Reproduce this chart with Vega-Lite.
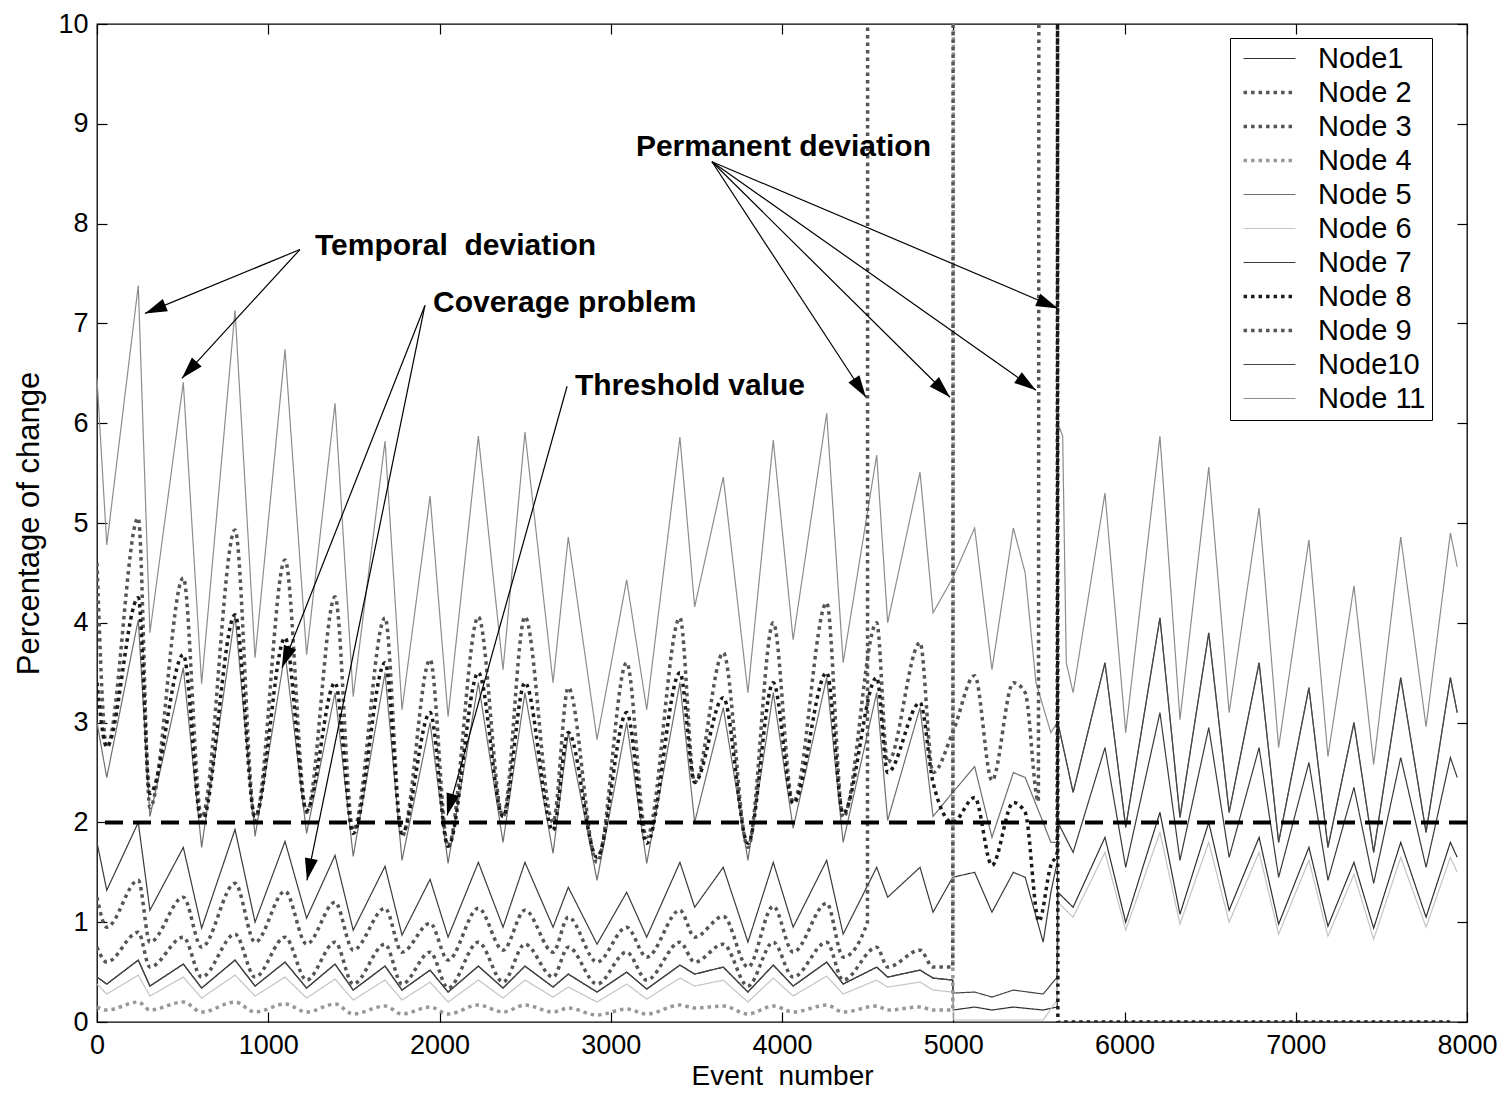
{
  "$schema": "https://vega.github.io/schema/vega-lite/v6.json",
  "width": 1370,
  "height": 998,
  "autosize": {"type": "none"},
  "padding": {"left": 97, "top": 24, "right": 39, "bottom": 74},
  "background": "white",
  "config": {
    "view": {"stroke": "black", "strokeWidth": 1.3},
    "font": "Liberation Sans",
    "axis": {"grid": false, "domain": false, "tickColor": "black", "tickWidth": 1.2, "labelColor": "black", "titleColor": "black", "labelFont": "Liberation Sans", "titleFont": "Liberation Sans", "titleFontWeight": "normal", "labelFontSize": 27},
    "legend": {"title": null, "orient": "none", "legendX": 1133, "legendY": 14, "direction": "vertical",
               "symbolType": "M-1.79,0H1.79", "symbolSize": 841, "labelFont": "Liberation Sans", "labelFontSize": 29, "labelColor": "black",
               "padding": 6, "rowPadding": 4, "strokeColor": "black", "fillColor": "white", "labelOffset": 34, "symbolOffset": 19}
  },
  "datasets": {
    "series": [
      {"e":0,"Node1":0.45,"Node 2":4.6,"Node 3":1.25,"Node 4":0.15,"Node 5":3.0,"Node 6":0.38,"Node 7":1.8,"Node 8":3.4,"Node 9":0.75,"Node10":0.45,"Node 11":6.45},
      {"e":57,"Node1":0.38,"Node 2":2.75,"Node 3":0.95,"Node 4":0.12,"Node 5":2.45,"Node 6":0.28,"Node 7":1.32,"Node 8":2.76,"Node 9":0.6,"Node10":0.38,"Node 11":4.78},
      {"e":241,"Node1":0.62,"Node 2":5.05,"Node 3":1.42,"Node 4":0.2,"Node 5":4.03,"Node 6":0.47,"Node 7":2.0,"Node 8":4.25,"Node 9":0.9,"Node10":0.62,"Node 11":7.38},
      {"e":309,"Node1":0.36,"Node 2":2.15,"Node 3":0.8,"Node 4":0.12,"Node 5":2.06,"Node 6":0.26,"Node 7":1.12,"Node 8":2.29,"Node 9":0.55,"Node10":0.36,"Node 11":3.9},
      {"e":504,"Node1":0.58,"Node 2":4.45,"Node 3":1.25,"Node 4":0.2,"Node 5":3.55,"Node 6":0.45,"Node 7":1.75,"Node 8":3.68,"Node 9":0.85,"Node10":0.58,"Node 11":6.41},
      {"e":611,"Node1":0.34,"Node 2":2.05,"Node 3":0.75,"Node 4":0.1,"Node 5":1.75,"Node 6":0.24,"Node 7":0.94,"Node 8":2.0,"Node 9":0.45,"Node10":0.34,"Node 11":3.39},
      {"e":806,"Node1":0.62,"Node 2":4.93,"Node 3":1.39,"Node 4":0.2,"Node 5":4.08,"Node 6":0.47,"Node 7":1.93,"Node 8":4.08,"Node 9":0.88,"Node10":0.62,"Node 11":7.13},
      {"e":923,"Node1":0.36,"Node 2":2.02,"Node 3":0.8,"Node 4":0.1,"Node 5":1.86,"Node 6":0.26,"Node 7":1.0,"Node 8":2.06,"Node 9":0.45,"Node10":0.36,"Node 11":3.65},
      {"e":1098,"Node1":0.6,"Node 2":4.63,"Node 3":1.31,"Node 4":0.18,"Node 5":3.7,"Node 6":0.45,"Node 7":1.81,"Node 8":3.85,"Node 9":0.85,"Node10":0.6,"Node 11":6.74},
      {"e":1224,"Node1":0.34,"Node 2":2.1,"Node 3":0.78,"Node 4":0.1,"Node 5":1.89,"Node 6":0.24,"Node 7":1.04,"Node 8":2.12,"Node 9":0.42,"Node10":0.34,"Node 11":3.68},
      {"e":1390,"Node1":0.58,"Node 2":4.26,"Node 3":1.2,"Node 4":0.18,"Node 5":3.3,"Node 6":0.43,"Node 7":1.67,"Node 8":3.4,"Node 9":0.8,"Node10":0.58,"Node 11":6.2},
      {"e":1496,"Node1":0.32,"Node 2":1.92,"Node 3":0.72,"Node 4":0.08,"Node 5":1.66,"Node 6":0.22,"Node 7":0.92,"Node 8":1.89,"Node 9":0.38,"Node10":0.32,"Node 11":3.26},
      {"e":1682,"Node1":0.56,"Node 2":4.05,"Node 3":1.14,"Node 4":0.16,"Node 5":3.5,"Node 6":0.42,"Node 7":1.56,"Node 8":3.6,"Node 9":0.78,"Node10":0.56,"Node 11":5.82},
      {"e":1781,"Node1":0.32,"Node 2":1.86,"Node 3":0.7,"Node 4":0.08,"Node 5":1.62,"Node 6":0.22,"Node 7":0.87,"Node 8":1.89,"Node 9":0.38,"Node10":0.32,"Node 11":3.13},
      {"e":1945,"Node1":0.52,"Node 2":3.63,"Node 3":0.99,"Node 4":0.15,"Node 5":3.0,"Node 6":0.4,"Node 7":1.43,"Node 8":3.1,"Node 9":0.7,"Node10":0.52,"Node 11":5.27},
      {"e":2050,"Node1":0.3,"Node 2":1.76,"Node 3":0.62,"Node 4":0.08,"Node 5":1.59,"Node 6":0.2,"Node 7":0.85,"Node 8":1.76,"Node 9":0.34,"Node10":0.3,"Node 11":3.06},
      {"e":2227,"Node1":0.56,"Node 2":4.06,"Node 3":1.14,"Node 4":0.17,"Node 5":3.4,"Node 6":0.42,"Node 7":1.6,"Node 8":3.5,"Node 9":0.8,"Node10":0.56,"Node 11":5.87},
      {"e":2371,"Node1":0.34,"Node 2":2.06,"Node 3":0.72,"Node 4":0.1,"Node 5":1.8,"Node 6":0.24,"Node 7":0.95,"Node 8":2.06,"Node 9":0.4,"Node10":0.34,"Node 11":3.53},
      {"e":2499,"Node1":0.56,"Node 2":4.06,"Node 3":1.12,"Node 4":0.17,"Node 5":3.3,"Node 6":0.42,"Node 7":1.6,"Node 8":3.4,"Node 9":0.78,"Node10":0.56,"Node 11":5.91},
      {"e":2663,"Node1":0.35,"Node 2":2.0,"Node 3":0.7,"Node 4":0.1,"Node 5":1.69,"Node 6":0.25,"Node 7":0.95,"Node 8":1.92,"Node 9":0.45,"Node10":0.35,"Node 11":3.4},
      {"e":2752,"Node1":0.48,"Node 2":3.35,"Node 3":1.05,"Node 4":0.14,"Node 5":2.9,"Node 6":0.35,"Node 7":1.35,"Node 8":2.9,"Node 9":0.75,"Node10":0.48,"Node 11":4.86},
      {"e":2920,"Node1":0.3,"Node 2":1.6,"Node 3":0.6,"Node 4":0.07,"Node 5":1.42,"Node 6":0.2,"Node 7":0.78,"Node 8":1.65,"Node 9":0.38,"Node10":0.3,"Node 11":2.83},
      {"e":3093,"Node1":0.5,"Node 2":3.6,"Node 3":0.95,"Node 4":0.13,"Node 5":3.0,"Node 6":0.38,"Node 7":1.3,"Node 8":3.1,"Node 9":0.7,"Node10":0.5,"Node 11":4.43},
      {"e":3210,"Node1":0.33,"Node 2":1.85,"Node 3":0.65,"Node 4":0.08,"Node 5":1.59,"Node 6":0.23,"Node 7":0.85,"Node 8":1.79,"Node 9":0.42,"Node10":0.33,"Node 11":3.13},
      {"e":3404,"Node1":0.57,"Node 2":4.05,"Node 3":1.12,"Node 4":0.17,"Node 5":3.4,"Node 6":0.44,"Node 7":1.6,"Node 8":3.5,"Node 9":0.8,"Node10":0.57,"Node 11":5.86},
      {"e":3490,"Node1":0.48,"Node 2":2.4,"Node 3":0.85,"Node 4":0.14,"Node 5":2.0,"Node 6":0.36,"Node 7":1.15,"Node 8":2.4,"Node 9":0.6,"Node10":0.48,"Node 11":4.16},
      {"e":3657,"Node1":0.55,"Node 2":3.7,"Node 3":1.06,"Node 4":0.16,"Node 5":3.15,"Node 6":0.42,"Node 7":1.55,"Node 8":3.25,"Node 9":0.78,"Node10":0.55,"Node 11":5.46},
      {"e":3801,"Node1":0.3,"Node 2":1.75,"Node 3":0.55,"Node 4":0.08,"Node 5":1.62,"Node 6":0.2,"Node 7":0.8,"Node 8":1.79,"Node 9":0.36,"Node10":0.3,"Node 11":3.3},
      {"e":3949,"Node1":0.57,"Node 2":4.0,"Node 3":1.16,"Node 4":0.16,"Node 5":3.3,"Node 6":0.44,"Node 7":1.6,"Node 8":3.4,"Node 9":0.8,"Node10":0.57,"Node 11":5.83},
      {"e":4065,"Node1":0.36,"Node 2":2.2,"Node 3":0.7,"Node 4":0.1,"Node 5":1.94,"Node 6":0.26,"Node 7":0.95,"Node 8":2.19,"Node 9":0.45,"Node10":0.36,"Node 11":3.83},
      {"e":4261,"Node1":0.6,"Node 2":4.2,"Node 3":1.19,"Node 4":0.17,"Node 5":3.45,"Node 6":0.46,"Node 7":1.62,"Node 8":3.5,"Node 9":0.8,"Node10":0.6,"Node 11":6.1},
      {"e":4357,"Node1":0.38,"Node 2":2.05,"Node 3":0.65,"Node 4":0.1,"Node 5":1.8,"Node 6":0.28,"Node 7":0.88,"Node 8":2.09,"Node 9":0.42,"Node10":0.38,"Node 11":3.6},
      {"e":4499,"Node 3":1.0},
      {"e":4500,"Node 3":10.5},
      {"e":4553,"Node1":0.55,"Node 2":4.0,"Node 4":0.16,"Node 5":3.3,"Node 6":0.42,"Node 7":1.55,"Node 8":3.45,"Node 9":0.75,"Node10":0.55,"Node 11":5.68},
      {"e":4617,"Node1":0.45,"Node 2":2.6,"Node 4":0.12,"Node 5":2.02,"Node 6":0.35,"Node 7":1.25,"Node 8":2.5,"Node 9":0.55,"Node10":0.45,"Node 11":4.0},
      {"e":4806,"Node1":0.52,"Node 2":3.8,"Node 4":0.15,"Node 5":3.15,"Node 6":0.4,"Node 7":1.55,"Node 8":3.2,"Node 9":0.72,"Node10":0.52,"Node 11":5.51},
      {"e":4882,"Node1":0.44,"Node 2":2.5,"Node 4":0.12,"Node 5":2.06,"Node 6":0.32,"Node 7":1.1,"Node 8":2.4,"Node 9":0.55,"Node10":0.44,"Node 11":4.1},
      {"e":4997,"Node1":0.42,"Node 2":2.9,"Node 4":0.12,"Node 5":2.3,"Node 6":0.3,"Node 7":1.45,"Node 8":2.0,"Node 9":0.55,"Node10":0.42,"Node 11":4.45},
      {"e":4999,"Node 9":10.5},
      {"e":5000,"Node1":0.12,"Node 6":0.02,"Node10":0.29},
      {"e":5001,"Node 4":10.5},
      {"e":5125,"Node1":0.15,"Node 2":3.47,"Node 5":2.56,"Node 6":0.02,"Node 7":1.5,"Node 8":2.25,"Node10":0.3,"Node 11":4.95},
      {"e":5226,"Node1":0.12,"Node 2":2.42,"Node 5":1.85,"Node 7":1.1,"Node 8":1.57,"Node10":0.25,"Node 11":3.53},
      {"e":5351,"Node1":0.15,"Node 2":3.4,"Node 5":2.5,"Node 7":1.5,"Node 8":2.2,"Node10":0.32,"Node 11":4.95},
      {"e":5420,"Node 2":3.3,"Node 5":2.45,"Node 7":1.45,"Node 8":2.1,"Node 11":4.5},
      {"e":5483,"Node 11":3.4},
      {"e":5497,"Node 2":2.21},
      {"e":5500,"Node 2":10.5,"Node 8":1.01},
      {"e":5525,"Node1":0.12,"Node 5":2.0,"Node 6":0.02,"Node 7":0.8,"Node10":0.28},
      {"e":5570,"Node 5":1.8,"Node 7":1.3,"Node 8":1.57,"Node 11":2.9},
      {"e":5607,"Node1":0.15,"Node 5":1.8,"Node 6":0.22,"Node 7":1.6,"Node 8":1.7,"Node10":0.45,"Node 11":3.0},
      {"e":5609,"Node 8":10.5},
      {"e":5611,"Node1":1.3,"Node 5":3.0,"Node 6":1.2,"Node 7":2.0,"Node 8":0,"Node10":3.0,"Node 11":6.0},
      {"e":5639,"Node 11":5.87},
      {"e":5660,"Node 11":3.6},
      {"e":5700,"Node1":1.15,"Node 5":2.3,"Node 6":1.05,"Node 7":1.7,"Node10":2.3,"Node 11":3.3},
      {"e":5886,"Node1":1.85,"Node 5":3.6,"Node 6":1.7,"Node 7":2.75,"Node10":3.6,"Node 11":5.3},
      {"e":6007,"Node1":1.0,"Node 5":1.95,"Node 6":0.92,"Node 7":1.55,"Node10":1.95,"Node 11":2.9},
      {"e":6207,"Node1":2.1,"Node 5":4.05,"Node 6":1.9,"Node 7":3.1,"Node10":4.05,"Node 11":5.87},
      {"e":6324,"Node1":1.08,"Node 5":2.05,"Node 6":0.98,"Node 7":1.62,"Node10":2.05,"Node 11":3.03},
      {"e":6492,"Node1":2.0,"Node 5":3.9,"Node 6":1.8,"Node 7":2.95,"Node10":3.9,"Node 11":5.56},
      {"e":6611,"Node1":1.12,"Node 5":2.1,"Node 6":1.0,"Node 7":1.65,"Node10":2.1,"Node 11":3.1},
      {"e":6786,"Node1":1.85,"Node 5":3.6,"Node 6":1.7,"Node 7":2.75,"Node10":3.6,"Node 11":5.15},
      {"e":6900,"Node1":0.98,"Node 5":1.8,"Node 6":0.88,"Node 7":1.45,"Node10":1.8,"Node 11":2.75},
      {"e":7077,"Node1":1.75,"Node 5":3.35,"Node 6":1.62,"Node 7":2.6,"Node10":3.35,"Node 11":4.83},
      {"e":7188,"Node1":0.96,"Node 5":1.75,"Node 6":0.86,"Node 7":1.42,"Node10":1.75,"Node 11":2.66},
      {"e":7340,"Node1":1.6,"Node 5":3.0,"Node 6":1.48,"Node 7":2.35,"Node10":3.0,"Node 11":4.37},
      {"e":7455,"Node1":0.94,"Node 5":1.7,"Node 6":0.83,"Node 7":1.39,"Node10":1.7,"Node 11":2.58},
      {"e":7613,"Node1":1.8,"Node 5":3.45,"Node 6":1.65,"Node 7":2.65,"Node10":3.45,"Node 11":4.86},
      {"e":7761,"Node1":1.05,"Node 5":1.9,"Node 6":0.95,"Node 7":1.55,"Node10":1.9,"Node 11":2.96},
      {"e":7900,"Node 8":0},
      {"e":7903,"Node1":1.8,"Node 5":3.45,"Node 6":1.65,"Node 7":2.65,"Node10":3.45,"Node 11":4.9},
      {"e":7943,"Node1":1.65,"Node 5":3.1,"Node 6":1.5,"Node 7":2.45,"Node10":3.1,"Node 11":4.56}
    ],
    "arrows": [
      {"e":1185,"v":7.74,"e2":280,"v2":7.1},
      {"e":1185,"v":7.74,"e2":496,"v2":6.45},
      {"e":1915,"v":7.18,"e2":1080,"v2":3.55},
      {"e":1915,"v":7.18,"e2":1226,"v2":1.42},
      {"e":2745,"v":6.37,"e2":2044,"v2":2.07},
      {"e":3591,"v":8.62,"e2":4490,"v2":6.26},
      {"e":3591,"v":8.62,"e2":4981,"v2":6.26},
      {"e":3591,"v":8.62,"e2":5483,"v2":6.33},
      {"e":3591,"v":8.62,"e2":5612,"v2":7.15}
    ],
    "notes": [
      {"text":"Temporal\u00a0 deviation","e":1273,"v":7.78},
      {"text":"Coverage problem","e":1962,"v":7.2},
      {"text":"Threshold value","e":2791,"v":6.37},
      {"text":"Permanent deviation","e":3147,"v":8.77}
    ],
    "threshold": [{"value": 2}]
  },
  "layer": [
    {
      "data": {"name": "series"},
      "transform": [
        {"fold": ["Node1","Node 5","Node 6","Node 7","Node10","Node 11"], "as": ["node","value"]},
        {"filter": "isValid(datum.value)"}
      ],
      "mark": {"type": "line", "clip": true, "interpolate": "linear", "strokeWidth": 1.2},
      "encoding": {
        "x": {"field": "e", "type": "quantitative", "scale": {"domain": [0, 8000], "nice": false, "zero": false},
          "axis": {"values": [0,1000,2000,3000,4000,5000,6000,7000,8000], "format": "d", "title": "Event\u00a0 number", "labelFlush": false, "tickSize": -10, "labelPadding": 20, "titleFontSize": 28, "titlePadding": 4, "labelFontSize": 27}},
        "y": {"field": "value", "type": "quantitative", "scale": {"domain": [0, 10], "nice": false},
          "axis": {"values": [0,1,2,3,4,5,6,7,8,9,10], "format": "d", "title": "Percentage of change", "labelFlush": false, "tickSize": -10, "labelPadding": 19, "titleFontSize": 31, "titlePadding": 12, "labelFontSize": 27}},
        "color": {"field": "node", "type": "nominal",
          "scale": {"domain": ["Node1","Node 2","Node 3","Node 4","Node 5","Node 6","Node 7","Node 8","Node 9","Node10","Node 11"],
                    "range": ["#2e2e2e","#555555","#555555","#979797","#6e6e6e","#c4c4c4","#3a3a3a","#1a1a1a","#555555","#444444","#8c8c8c"]},
          "legend": {"encode": {"symbols": {"update": {"strokeWidth": {"signal": "indexof(['Node 2','Node 3','Node 4','Node 8','Node 9'], datum.value) >= 0 ? 3.5 : 1.2"}}}}}},
        "strokeDash": {"field": "node", "type": "nominal",
          "scale": {"domain": ["Node1","Node 2","Node 3","Node 4","Node 5","Node 6","Node 7","Node 8","Node 9","Node10","Node 11"],
                    "range": [[1,0],[3.5,4],[3.5,4],[3.5,4],[1,0],[1,0],[1,0],[3.5,4],[3.5,4],[1,0],[1,0]]}}
      }
    },
    {
      "data": {"name": "series"},
      "transform": [
        {"fold": ["Node 2","Node 3","Node 4","Node 8","Node 9"], "as": ["node","value"]},
        {"filter": "isValid(datum.value)"}
      ],
      "mark": {"type": "line", "clip": true, "interpolate": "monotone", "strokeWidth": 3.5},
      "encoding": {
        "x": {"field": "e", "type": "quantitative", "scale": {"domain": [0, 8000], "nice": false, "zero": false}, "axis": null},
        "y": {"field": "value", "type": "quantitative", "scale": {"domain": [0, 10], "nice": false}, "axis": null},
        "color": {"field": "node", "type": "nominal",
          "scale": {"domain": ["Node1","Node 2","Node 3","Node 4","Node 5","Node 6","Node 7","Node 8","Node 9","Node10","Node 11"],
                    "range": ["#2e2e2e","#555555","#555555","#979797","#6e6e6e","#c4c4c4","#3a3a3a","#1a1a1a","#555555","#444444","#8c8c8c"]},
          "legend": {"encode": {"symbols": {"update": {"strokeWidth": {"signal": "indexof(['Node 2','Node 3','Node 4','Node 8','Node 9'], datum.value) >= 0 ? 3.5 : 1.2"}}}}}},
        "strokeDash": {"field": "node", "type": "nominal",
          "scale": {"domain": ["Node1","Node 2","Node 3","Node 4","Node 5","Node 6","Node 7","Node 8","Node 9","Node10","Node 11"],
                    "range": [[1,0],[3.5,4],[3.5,4],[3.5,4],[1,0],[1,0],[1,0],[3.5,4],[3.5,4],[1,0],[1,0]]}}
      }
    },
    {
      "data": {"name": "threshold"},
      "mark": {"type": "rule", "color": "black", "strokeWidth": 4, "strokeDash": [18, 10]},
      "encoding": {
        "y": {"field": "value", "type": "quantitative", "scale": {"domain": [0, 10], "nice": false}, "axis": null}
      }
    },
    {
      "data": {"name": "arrows"},
      "mark": {"type": "rule", "color": "black", "strokeWidth": 1.2},
      "encoding": {
        "x": {"field": "e", "type": "quantitative", "scale": {"domain": [0, 8000], "nice": false, "zero": false}, "axis": null},
        "y": {"field": "v", "type": "quantitative", "scale": {"domain": [0, 10], "nice": false}, "axis": null},
        "x2": {"field": "e2"},
        "y2": {"field": "v2"}
      }
    },
    {
      "data": {"name": "arrows"},
      "transform": [
        {"calculate": "atan2((datum.e2 - datum.e) * 0.17125, (datum.v2 - datum.v) * 99.8) * 180 / PI", "as": "ang"}
      ],
      "mark": {"type": "point", "shape": "M0,0L-0.3,1L0.3,1Z", "filled": true, "size": 1936, "color": "black", "opacity": 1},
      "encoding": {
        "x": {"field": "e2", "type": "quantitative", "scale": {"domain": [0, 8000], "nice": false, "zero": false}, "axis": null},
        "y": {"field": "v2", "type": "quantitative", "scale": {"domain": [0, 10], "nice": false}, "axis": null},
        "angle": {"field": "ang", "type": "quantitative", "scale": null}
      }
    },
    {
      "data": {"name": "notes"},
      "mark": {"type": "text", "align": "left", "baseline": "middle", "font": "Liberation Sans", "fontWeight": "bold", "fontSize": 30, "color": "black"},
      "encoding": {
        "x": {"field": "e", "type": "quantitative", "scale": {"domain": [0, 8000], "nice": false, "zero": false}, "axis": null},
        "y": {"field": "v", "type": "quantitative", "scale": {"domain": [0, 10], "nice": false}, "axis": null},
        "text": {"field": "text"}
      }
    },
    {
      "data": {"name": "notes"},
      "mark": {"type": "point", "opacity": 0},
      "encoding": {
        "x": {"field": "e", "type": "quantitative", "scale": {"domain": [0, 8000], "nice": false, "zero": false},
          "axis": {"orient": "top", "values": [0,1000,2000,3000,4000,5000,6000,7000,8000], "labels": false, "title": null, "tickSize": -10}},
        "y": {"field": "v", "type": "quantitative", "scale": {"domain": [0, 10], "nice": false},
          "axis": {"orient": "right", "values": [0,1,2,3,4,5,6,7,8,9,10], "labels": false, "title": null, "tickSize": -10}}
      }
    }
  ],
  "resolve": {"axis": {"x": "independent", "y": "independent"}}
}
